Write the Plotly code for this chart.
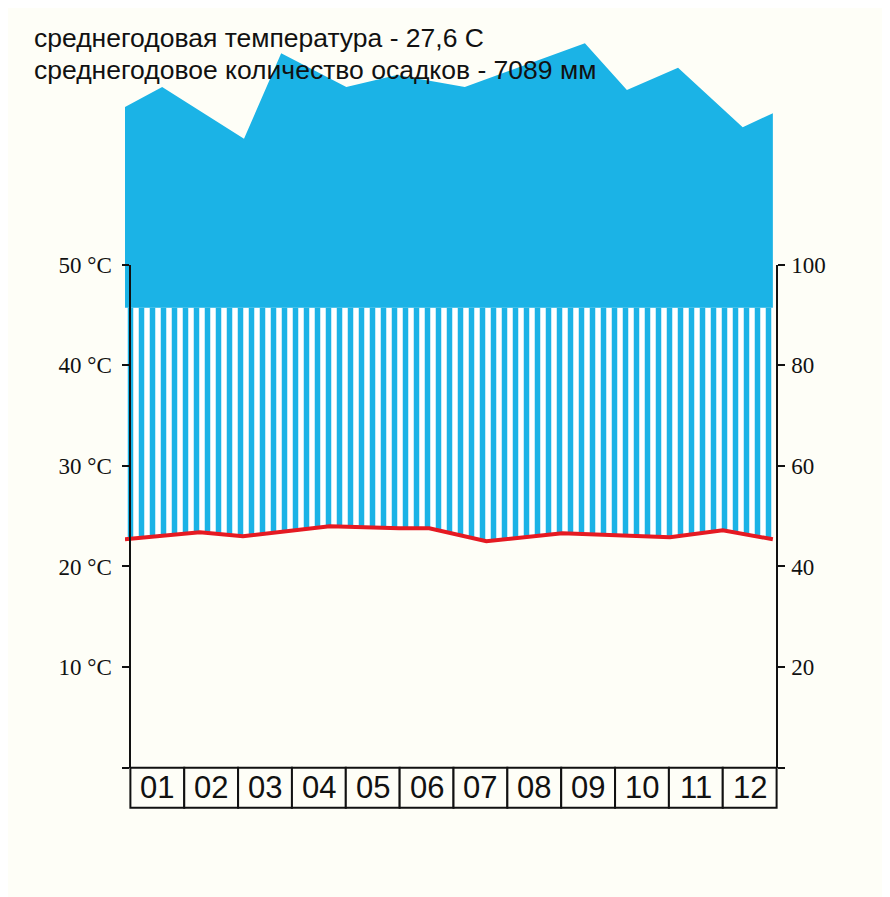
import plotly.graph_objects as go

# ---------------- data ----------------
months = ["01", "02", "03", "04", "05", "06", "07", "08", "09", "10", "11", "12"]
month_pos = list(range(1, 13))

# temperature curve readings (fractional month position, °C)
temp_month = [0.40, 1.79, 2.59, 4.20, 5.49, 6.05, 7.11, 8.52, 10.52, 11.50, 12.43]
temp_c = [22.7, 23.4, 23.0, 24.0, 23.8, 23.8, 22.5, 23.3, 22.9, 23.6, 22.7]

# precipitation curve readings (fractional month position, mm; >100 mm drawn at 1/10 scale)
precip_month = [0.40, 1.09, 2.61, 3.30, 4.51, 5.45, 6.71, 8.94, 9.72, 10.67, 11.87, 12.43]
precip_mm = [413, 453, 350, 520, 453, 477, 453, 540, 447, 491, 373, 401]

# level where the solid (>100 mm part) fill begins, in mm
humid_top_mm = 91.4

temp_ticks = [0, 10, 20, 30, 40, 50]
temp_ticktext = ["", "10 °C", "20 °C", "30 °C", "40 °C", "50 °C"]
prec_ticks = [0, 20, 40, 60, 80, 100]
prec_ticktext = ["", "20", "40", "60", "80", "100"]

title1 = "среднегодовая температура - 27,6 С"
title2 = "среднегодовое количество осадков - 7089 мм"

# ---------------- styling ----------------
BLUE = "#1BB3E6"
RED = "#E51A22"
BG = "#FEFEF7"
INK = "#111111"
CLEAR = "rgba(0,0,0,0)"

X_RANGE = [0.4, 12.6]
Y_RANGE = [-4.4, 75]      # temperature units (1 °C = 2 mm)
BOX_H = 3.98


def mm_to_axis(p):
    """Walter-Lieth scale: 10 °C = 20 mm, above 100 mm compressed 1:10."""
    v = p if p <= 100 else 100 + (p - 100) / 10.0
    return v / 2.0


fig = go.Figure()

# lower boundary of hatched (humid) band = temperature curve
fig.add_trace(go.Scatter(x=temp_month, y=temp_c, mode="lines",
                         line=dict(width=0, color=RED), hoverinfo="skip", showlegend=False))
# hatched band up to humid_top
xb = [precip_month[0], precip_month[-1]]
fig.add_trace(go.Scatter(x=xb, y=[mm_to_axis(humid_top_mm)] * 2, mode="lines",
                         line=dict(width=0, color=BLUE), fill="tonexty",
                         fillcolor="white",
                         fillpattern=dict(shape="|", size=11, solidity=0.5,
                                          fgcolor=BLUE, bgcolor="white", fgopacity=1),
                         hoverinfo="skip", showlegend=False))
# solid part
fig.add_trace(go.Scatter(x=xb, y=[mm_to_axis(humid_top_mm)] * 2, mode="lines",
                         line=dict(width=0, color=BLUE), hoverinfo="skip", showlegend=False))
fig.add_trace(go.Scatter(x=precip_month, y=[mm_to_axis(p) for p in precip_mm], mode="lines",
                         line=dict(width=0, color=BLUE), fill="tonexty", fillcolor=BLUE,
                         hoverinfo="skip", showlegend=False))
# temperature curve
fig.add_trace(go.Scatter(x=temp_month, y=temp_c, mode="lines",
                         line=dict(width=4, color=RED, shape="linear"),
                         hoverinfo="skip", showlegend=False))

# dummy traces to activate the display axes
fig.add_trace(go.Scatter(x=[1], y=[0], yaxis="y3", mode="markers",
                         marker=dict(opacity=0), hoverinfo="skip", showlegend=False))
fig.add_trace(go.Scatter(x=[1], y=[0], yaxis="y4", mode="markers",
                         marker=dict(opacity=0), hoverinfo="skip", showlegend=False))

span_y = Y_RANGE[1] - Y_RANGE[0]
d0 = (0 - Y_RANGE[0]) / span_y
d1 = (50 - Y_RANGE[0]) / span_y
span_x = X_RANGE[1] - X_RANGE[0]
p_left = (0.5 - X_RANGE[0]) / span_x
p_right = (12.5 - X_RANGE[0]) / span_x

axis_common = dict(showgrid=False, zeroline=False, showline=True, linecolor=INK, linewidth=2,
                   ticks="outside", ticklen=7, tickwidth=2, tickcolor=INK,
                   tickfont=dict(family="Liberation Serif", size=23, color=INK),
                   domain=[d0, d1], anchor="free", automargin=False)

shapes = []
annotations = []
for m, lab in zip(month_pos, months):
    shapes.append(dict(type="rect", xref="x", yref="y", x0=m - 0.5, x1=m + 0.5,
                       y0=-BOX_H, y1=0, line=dict(color=INK, width=2), fillcolor=BG, layer="above"))
    annotations.append(dict(x=m, y=-BOX_H / 2, xref="x", yref="y", text=lab, showarrow=False,
                            font=dict(family="Liberation Sans", size=31, color=INK),
                            xanchor="center", yanchor="middle"))

annotations.append(dict(x=-0.141, y=(Y_RANGE[1] - 2.5 - Y_RANGE[0]) / span_y, xref="paper", yref="paper",
                        text=title1, showarrow=False, xanchor="left", yanchor="middle",
                        font=dict(family="Liberation Sans", size=26.5, color=INK)))
annotations.append(dict(x=-0.141, y=(Y_RANGE[1] - 5.67 - Y_RANGE[0]) / span_y, xref="paper", yref="paper",
                        text=title2, showarrow=False, xanchor="left", yanchor="middle",
                        font=dict(family="Liberation Sans", size=26.5, color=INK)))

fig.update_layout(
    width=890, height=897,
    margin=dict(l=117, r=116, t=5, b=93, autoexpand=False),
    paper_bgcolor=BG, plot_bgcolor=CLEAR,
    showlegend=False,
    xaxis=dict(range=X_RANGE, visible=False, showgrid=False, zeroline=False, automargin=False),
    yaxis=dict(range=Y_RANGE, visible=False, showgrid=False, zeroline=False, automargin=False),
    yaxis3=dict(range=[0, 50], side="left", position=p_left, ticklabelstandoff=6,
                tickvals=temp_ticks, ticktext=temp_ticktext, **axis_common),
    yaxis4=dict(range=[0, 100], side="right", position=p_right, ticklabelstandoff=2,
                tickvals=prec_ticks, ticktext=prec_ticktext, **axis_common),
    shapes=shapes,
    annotations=annotations,
)

fig.write_html("out.html")
